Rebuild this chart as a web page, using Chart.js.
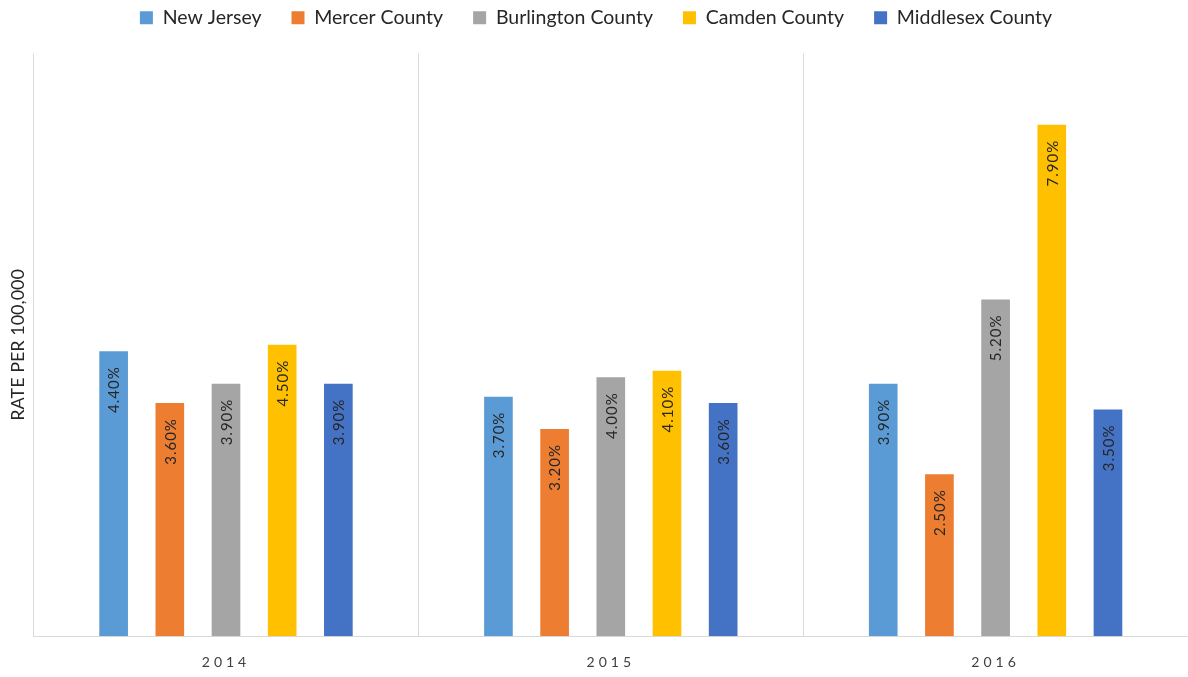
<!DOCTYPE html>
<html lang="en">
<head>
    <meta charset="UTF-8">
    <title>Rate per 100,000</title>
    <style>
        html, body { margin: 0; padding: 0; background: #fff; }
        #wrap { width: 1188px; height: 677px; }
    </style>
</head>
<body>
    <div id="wrap">
        <canvas id="chart" width="1188" height="677"></canvas>
    </div>

    <script src="https://cdn.jsdelivr.net/npm/chart.js@4.4.0/dist/chart.umd.min.js"></script>

    <script>
        // years on the x axis
        const years = ["2014", "2015", "2016"];

        // one series per area, values in percent
        const newJersey = [4.4, 3.7, 3.9];
        const mercer = [3.6, 3.2, 2.5];
        const burlington = [3.9, 4.0, 5.2];
        const camden = [4.5, 4.1, 7.9];
        const middlesex = [3.9, 3.6, 3.5];

        const seriesNames = ["New Jersey", "Mercer County", "Burlington County", "Camden County", "Middlesex County"];
        const seriesValues = [newJersey, mercer, burlington, camden, middlesex];
        const seriesColors = ["#5B9BD5", "#ED7D31", "#A5A5A5", "#FFC000", "#4472C4"];

        const axisTitle = "RATE PER 100,000";
        const yMax = 9;

        const datasets = seriesNames.map((name, i) => ({
            label: name,
            data: seriesValues[i],
            backgroundColor: seriesColors[i],
            borderWidth: 0,
            categoryPercentage: 0.73,
            barPercentage: 0.51
        }));

        // value labels, rotated, just under the top of each bar
        const barLabels = {
            id: "barLabels",
            afterDatasetsDraw(chart) {
                const ctx = chart.ctx;
                chart.data.datasets.forEach((ds, i) => {
                    const meta = chart.getDatasetMeta(i);
                    meta.data.forEach((bar, j) => {
                        ctx.save();
                        ctx.letterSpacing = "1px";
                        ctx.font = "15px Lato";
                        ctx.fillStyle = "#262626";
                        ctx.translate(bar.x + 1, bar.y + 15);
                        ctx.rotate(-Math.PI / 2);
                        ctx.textAlign = "right";
                        ctx.textBaseline = "middle";
                        ctx.fillText(ds.data[j].toFixed(2) + "%", 0, 0);
                        ctx.restore();
                    });
                });
            }
        };

        // legend spacing and spaced out year labels
        const tweaks = {
            id: "tweaks",
            beforeInit(chart) {
                const legend = chart.legend;
                const fit = legend.fit;
                legend.fit = function () {
                    fit.call(this);
                    this.height += 16;
                };
            },
            beforeDraw(chart) {
                const xs = chart.scales.x;
                if (!xs._spaced) {
                    const drawLabels = xs.drawLabels;
                    xs.drawLabels = function (area) {
                        chart.ctx.save();
                        chart.ctx.letterSpacing = "4px";
                        drawLabels.call(this, area);
                        chart.ctx.restore();
                    };
                    xs._spaced = true;
                }
            }
        };

        const chart = new Chart(document.getElementById("chart"), {
            type: "bar",
            data: { labels: years, datasets: datasets },
            plugins: [barLabels, tweaks],
            options: {
                responsive: false,
                animation: false,
                layout: { padding: { top: -22, right: -4, bottom: -12, left: 0 } },
                plugins: {
                    tooltip: { enabled: false },
                    legend: {
                        position: "top",
                        labels: {
                            boxWidth: 13,
                            boxHeight: 13,
                            padding: 30,
                            color: "#262626",
                            font: { family: "Lato", size: 19.5 }
                        }
                    }
                },
                scales: {
                    x: {
                        grid: { color: "#D9D9D9", drawTicks: false, offset: true },
                        border: { color: "#D9D9D9" },
                        ticks: {
                            color: "#404040",
                            padding: 18,
                            font: { family: "Lato", size: 14 }
                        }
                    },
                    y: {
                        min: 0,
                        max: yMax,
                        ticks: { display: false },
                        grid: { display: false, drawTicks: false },
                        border: { display: false },
                        title: {
                            display: true,
                            text: axisTitle,
                            color: "#262626",
                            padding: { top: 7, bottom: 5 },
                            font: { family: "Lato", size: 18 }
                        }
                    }
                }
            }
        });
    </script>
</body>
</html>
